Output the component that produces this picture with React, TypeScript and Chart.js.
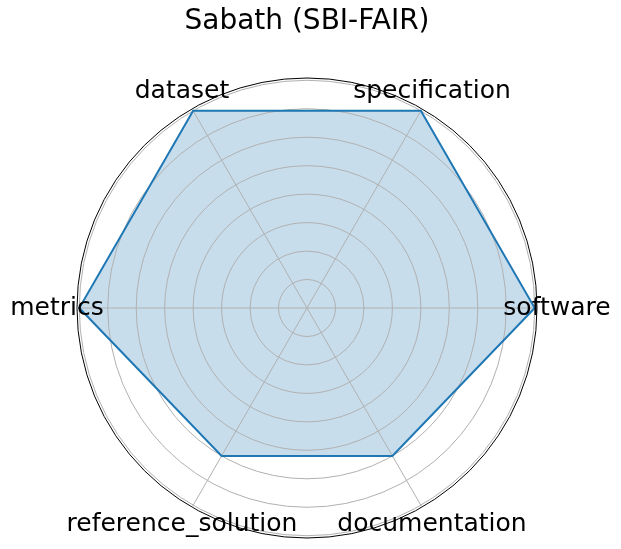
import React, { useEffect, useRef } from "react";
import { Chart, registerables } from "chart.js";

Chart.register(...registerables);

const titleText = "Sabath (SBI-FAIR)";
// Chart.js goes clockwise from the right; matplotlib goes counter-clockwise
const categories = ["software", "documentation", "reference_solution", "metrics", "dataset", "specification"];
const values = [4, 3, 3, 4, 4, 4];
const gridTicks = [0, 0.5, 1, 1.5, 2, 2.5, 3, 3.5, 4];
const rMax = 4.04;

const labelPlugin = {
  id: "centeredPointLabels",
  afterDraw(chart: any) {
    const scale = chart.scales.r;
    const ctx = chart.ctx;
    ctx.save();
    ctx.font = '25px "DejaVu Sans"';
    ctx.fillStyle = "#000";
    ctx.textAlign = "center";
    ctx.textBaseline = "middle";
    categories.forEach((lab, i) => {
      const p = scale.getPointPosition(i, scale.drawingArea + 20);
      ctx.fillText(lab, p.x, p.y);
    });
    ctx.restore();
  },
};

export default function App() {
  const ref = useRef<HTMLCanvasElement>(null);
  useEffect(() => {
    const chart = new Chart(ref.current!, {
      type: "radar",
      data: {
        labels: categories,
        datasets: [
          {
            data: values,
            borderColor: "#1f77b4",
            backgroundColor: "rgba(31,119,180,0.25)",
            borderWidth: 2,
            borderJoinStyle: "miter",
            pointRadius: 0,
            fill: true,
          },
        ],
      },
      options: {
        responsive: false,
        animation: false,
        layout: { padding: { left: 77, right: 84, top: 0, bottom: 11 } },
        plugins: {
          legend: { display: false },
          tooltip: { enabled: false },
          filler: { drawTime: "beforeDraw" },
          title: {
            display: true,
            text: titleText,
            color: "#000",
            font: { family: "DejaVu Sans", size: 28, weight: "normal", lineHeight: 1.2 },
            padding: { top: 5.2, bottom: 39.2 },
          },
        },
        scales: {
          r: {
            min: 0,
            max: rMax,
            startAngle: 90,
            afterBuildTicks: (scale: any) => {
              scale.ticks = [...gridTicks, rMax].map((v) => ({ value: v }));
            },
            ticks: { display: false },
            pointLabels: { display: false },
            grid: {
              circular: true,
              color: (c: any) => (c.tick && c.tick.value > 4.01 ? "#000" : "#b0b0b0"),
              lineWidth: 1,
            },
            angleLines: { color: "#b0b0b0", lineWidth: 1 },
          },
        },
      },
      plugins: [labelPlugin],
    } as any);
    return () => chart.destroy();
  }, []);
  return (
    <div style={{ position: "fixed", left: 0, top: 0, width: 621, height: 549, background: "#fff" }}>
      <canvas ref={ref} width={621} height={549} />
    </div>
  );
}
